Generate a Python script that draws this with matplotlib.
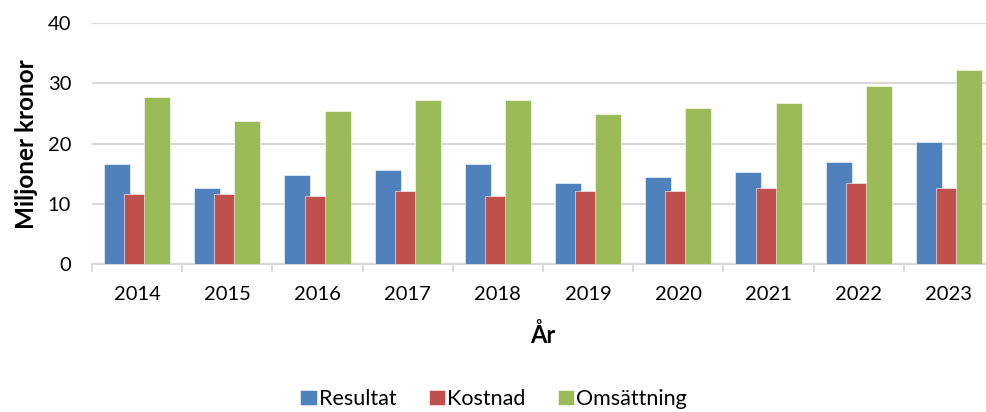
import matplotlib.pyplot as plt
import numpy as np

plt.rcParams['font.family'] = ['Lato', 'DejaVu Sans']

years = ['2014', '2015', '2016', '2017', '2018', '2019', '2020', '2021', '2022', '2023']
resultat = [16.6, 12.6, 14.8, 15.7, 16.6, 13.5, 14.4, 15.3, 17.0, 20.2]
kostnad = [11.7, 11.7, 11.3, 12.2, 11.3, 12.2, 12.2, 12.6, 13.5, 12.6]
omsattning = [27.7, 23.7, 25.5, 27.3, 27.3, 25.0, 25.9, 26.8, 29.5, 32.2]

series = [('Resultat', resultat, '#4F81BD'),
          ('Kostnad', kostnad, '#C0504D'),
          ('Omsättning', omsattning, '#9BBB59')]

fig = plt.figure(figsize=(9.87, 4.12), dpi=100)
ax = fig.add_axes([92/987, 1-264/412, 902/987, (264-23.3)/412])

x = np.arange(len(years))
w = 0.288
step = 0.222
for i, (name, vals, col) in enumerate(series):
    ax.bar(x + (i-1)*step, vals, width=w, color=col, label=name, zorder=3+i,
           edgecolor='white', linewidth=0.4)

ax.set_ylim(0, 40)
ax.set_xlim(-0.5, len(years)-0.5)
ax.set_yticks([0, 10, 20, 30, 40])
ax.yaxis.grid(True, color='#D9D9D9', linewidth=1.6, zorder=0)
ax.tick_params(axis='y', length=0, pad=15, labelsize=14.5)

ax.set_xticks(np.arange(len(years)+1)-0.5)
ax.set_xticklabels([])
ax.tick_params(axis='x', which='major', length=6, width=1.3, color='#D9D9D9')
ax.set_xticks(x, minor=True)
ax.set_xticklabels(years, minor=True)
ax.tick_params(axis='x', which='minor', length=0, pad=16, labelsize=14.5)

for s in ['top', 'right', 'left']:
    ax.spines[s].set_visible(False)
ax.spines['bottom'].set_color('#D9D9D9')
ax.spines['bottom'].set_linewidth(1.6)

ax.set_ylabel('Miljoner kronor', fontsize=17.5, fontweight='bold', labelpad=7)
ax.set_xlabel('År', fontsize=17, fontweight='bold', labelpad=14)

fig.legend(loc='center', bbox_to_anchor=(0.5, 1-399/412), ncol=3, frameon=False,
           fontsize=15.5, handlelength=0.75, handleheight=0.75, handletextpad=0.1,
           columnspacing=1.5)

fig.savefig('out.png', dpi=100)
